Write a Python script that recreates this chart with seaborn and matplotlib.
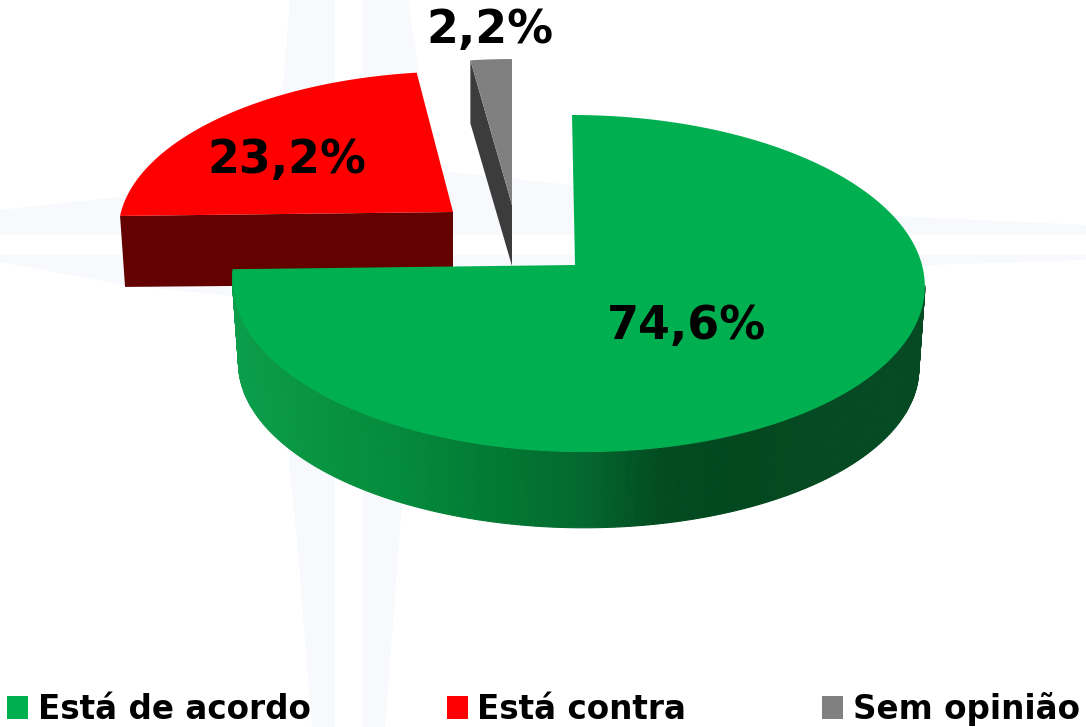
import numpy as np
import matplotlib
matplotlib.use("Agg")
import matplotlib.pyplot as plt
from matplotlib.patches import Patch
import seaborn as sns

categories = ["Está de acordo", "Está contra", "Sem opinião"]
values = [74.6, 23.2, 2.2]
colors = ["#00B050", "#FF0000", "#808080"]
wall_colors = ["#054a22", "#630000", "#3c3c3c"]
green_wall_stops = ["#0c9e4b", "#089440", "#048a3c", "#027a34", "#046a2f",
                    "#034b21", "#03481f", "#054a22", "#054a22"]
star_color = "#f7f9fd"

sns.set_theme(style="white")
plt.rcParams["font.family"] = ["DejaVu Sans"]

fig, ax = plt.subplots(figsize=(10.86, 7.27), dpi=100)
fig.subplots_adjust(0, 0, 1, 1)
ax.set_xlim(0, 1086)
ax.set_ylim(727, 0)
ax.axis("off")

# faint compass watermark
star_parts = [
    [(335, 0), (290, 0), (282, 100), (270, 180), (120, 197), (0, 210), (0, 235), (335, 235)],
    [(363, 0), (408, 0), (418, 70), (430, 170), (570, 185), (700, 207), (1086, 225), (1086, 235), (363, 235)],
    [(363, 255), (1086, 255), (1086, 260), (700, 272), (430, 290), (403, 490), (385, 727), (363, 727)],
    [(335, 255), (0, 255), (0, 262), (125, 285), (270, 300), (287, 440), (298, 550), (312, 727), (335, 727)],
]
for part in star_parts:
    xs, ys = zip(*part)
    ax.fill(xs, ys, color=star_color, lw=0, zorder=0)

PERSPECTIVE = 0.11


def rim(deg, cx, cy, rx, ry, shear=0.0):
    """Project a clockwise-from-top pie angle onto the tilted plane."""
    t = np.radians(deg)
    c, s = np.sin(t), np.cos(t)
    w = 1 + PERSPECTIVE * s
    return cx + rx * c / w + shear * s, cy - ry * s / w


total = sum(values)
edges = np.concatenate([[0], np.cumsum(values)]) / total * 360

# Geometry of each exploded slice: apex + top ellipse + bottom ellipse
slices = [
    dict(apex=(575, 265), top=(578, 265, 344, 166.5, -6), apex_b=None, bot=(578, 348, 338, 160, -6)),
    dict(apex=(453, 212), top=(453, 212, 332, 156, 5), apex_b=(453, 284), bot=(453, 283, 327, 156, 5)),
    dict(apex=(512, 205), top=(512, 205, 335, 162, 0), apex_b=(512, 266), bot=(512, 268, 335, 162, 0)),
]
draw_order = [2, 1, 0]
for z, i in enumerate(draw_order):
    g = slices[i]
    a0, a1 = edges[i], edges[i + 1]
    ang = np.linspace(a0, a1, 400)
    tx, ty = rim(ang, *g["top"])
    base = 2 + z * 2
    if i == 0:
        cmap = sns.blend_palette(green_wall_stops, as_cmap=True)
        front = np.linspace(97, a1, 240)
        fx, fy = rim(front, *g["top"])
        bx, by = rim(front, *g["bot"])
        for j in range(len(front) - 1):
            col = cmap((fx[j] - 232) / (925 - 232))
            ax.fill([fx[j], fx[j + 1], bx[j + 1], bx[j]],
                    [fy[j], fy[j + 1], by[j + 1], by[j]],
                    color=col, lw=0.8, zorder=base)
    else:
        bx, by = rim(ang, *g["bot"])
        ax.fill([g["apex"][0], tx[0], bx[0], g["apex_b"][0]],
                [g["apex"][1], ty[0], by[0], g["apex_b"][1]],
                color=wall_colors[i], lw=0, zorder=base)
    ax.fill(np.r_[g["apex"][0], tx], np.r_[g["apex"][1], ty],
            color=colors[i], lw=0, zorder=base + 1)

label_xy = [(687, 327), (287, 160), (490, 30)]
for v, (x, y) in zip(values, label_xy):
    ax.text(x, y, f"{v:.1f}%".replace(".", ","), ha="center", va="center",
            fontsize=33, fontweight="bold", color="black", zorder=10)

handles = [Patch(facecolor=c, edgecolor="none") for c in colors]
ax.legend(handles, categories, ncols=3, loc="lower left",
          bbox_to_anchor=(7 / 1086, 0.002), frameon=False, borderpad=0, borderaxespad=0,
          prop=dict(size=23.5, weight="bold"), labelcolor="black",
          handlelength=0.64, handleheight=0.72, handletextpad=0.3, columnspacing=4.17)

fig.savefig("out.png", dpi=100)
